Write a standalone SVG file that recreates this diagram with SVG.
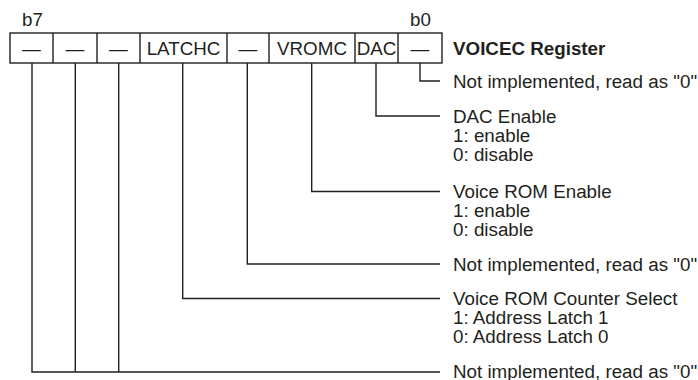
<svg xmlns="http://www.w3.org/2000/svg" width="698" height="380" viewBox="0 0 698 380">
<style>
text{font-family:"Liberation Sans",Arial,sans-serif;font-size:18.8px;fill:#231f20}
.c{text-anchor:middle}
.b{font-weight:bold}
.cell{fill:none;stroke:#231f20;stroke-width:1.4}
.ln{fill:none;stroke:#231f20;stroke-width:1.4}
</style>
<rect width="698" height="380" fill="#fff"/>
<g id="register">
<rect class="cell" x="10" y="33" width="432" height="30"/>
<path class="cell" d="M53 33V63M97 33V63M140 33V63M227 33V63M269 33V63M355 33V63M398 33V63"/>
<text x="22" y="26">b7</text>
<text x="410" y="26">b0</text>
<text class="c" x="31.5" y="54.7">—</text>
<text class="c" x="75" y="54.7">—</text>
<text class="c" x="118.5" y="54.7">—</text>
<text class="c" x="183.5" y="54.7">LATCHC</text>
<text class="c" x="248" y="54.7">—</text>
<text class="c" x="312" y="54.7">VROMC</text>
<text class="c" x="376.5" y="54.7">DAC</text>
<text class="c" x="420" y="54.7">—</text>
<text class="b" x="453" y="55">VOICEC Register</text>
</g>
<g id="connectors">
<path class="ln" d="M420 63V81H440"/>
<path class="ln" d="M376 63V116H440"/>
<path class="ln" d="M311.7 63V191.5H440"/>
<path class="ln" d="M247.3 63V264H440"/>
<path class="ln" d="M182.7 63V298.5H440"/>
<path class="ln" d="M32 63V372H440M75.3 63V372M118.7 63V372"/>
</g>
<g id="bit0"><text x="453" y="87.7">Not implemented, read as "0"</text></g>
<g id="bit1"><text x="453" y="122.7">DAC Enable</text><text x="453" y="141.7">1: enable</text><text x="453" y="160.7">0: disable</text></g>
<g id="bit2"><text x="453" y="198.2">Voice ROM Enable</text><text x="453" y="217.2">1: enable</text><text x="453" y="236.2">0: disable</text></g>
<g id="bit3"><text x="453" y="270.7">Not implemented, read as "0"</text></g>
<g id="bit4"><text x="453" y="305.2">Voice ROM Counter Select</text><text x="453" y="324.2">1: Address Latch 1</text><text x="453" y="343.2">0: Address Latch 0</text></g>
<g id="bit765"><text x="453" y="378.4">Not implemented, read as "0"</text></g>
</svg>
